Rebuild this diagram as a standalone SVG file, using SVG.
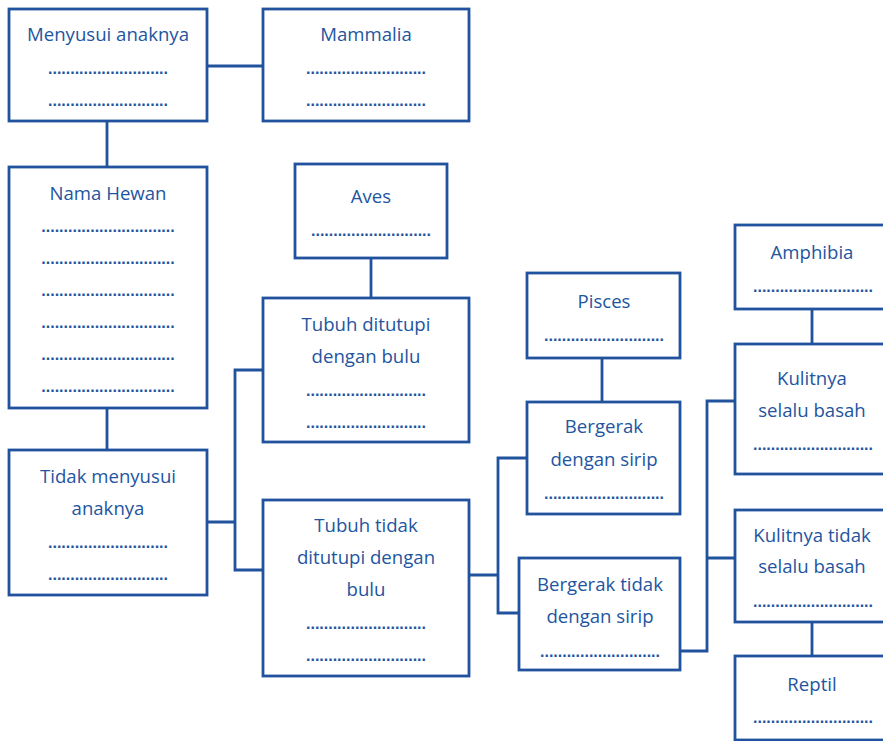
<svg xmlns="http://www.w3.org/2000/svg" width="883" height="741" viewBox="0 0 883 741">
<style>
rect{fill:#fff;stroke:#21529e;stroke-width:2.8}
.c{fill:none;stroke:#21529e;stroke-width:2.8}
text{font-family:"Open Sans","Noto Sans",sans-serif;font-size:18.6px;fill:#23559f;text-anchor:middle}
text.d{font-family:"Liberation Sans",sans-serif;font-size:16px;font-weight:bold}
</style>
<rect width="883" height="741" style="stroke:none"/>
<g id="connectors">
<path class="c" d="M207 66H263"/>
<path class="c" d="M107 121V167"/>
<path class="c" d="M107 408V450"/>
<path class="c" d="M371 258V298"/>
<path class="c" d="M207 522H235M263 370H235V570H263"/>
<path class="c" d="M469 575H498M527 458H498V613H519"/>
<path class="c" d="M602 358V402"/>
<path class="c" d="M680 651H707V401H735M707 558H735"/>
<path class="c" d="M812 309V344"/>
<path class="c" d="M812 622V656"/>
</g>
<g id="menyusui">
<rect x="9" y="9" width="198" height="112"/>
<text x="108" y="41">Menyusui anaknya</text>
<text class="d" x="108" y="74">...........................</text>
<text class="d" x="108" y="106">...........................</text>
</g>
<g id="mammalia">
<rect x="263" y="9" width="206" height="112"/>
<text x="366" y="41">Mammalia</text>
<text class="d" x="366" y="74">...........................</text>
<text class="d" x="366" y="106">...........................</text>
</g>
<g id="nama-hewan">
<rect x="9" y="167" width="198" height="241"/>
<text x="108" y="200">Nama Hewan</text>
<text class="d" x="108" y="232">..............................</text>
<text class="d" x="108" y="264">..............................</text>
<text class="d" x="108" y="296">..............................</text>
<text class="d" x="108" y="328">..............................</text>
<text class="d" x="108" y="360">..............................</text>
<text class="d" x="108" y="392">..............................</text>
</g>
<g id="aves">
<rect x="295" y="164" width="152" height="94"/>
<text x="371" y="203">Aves</text>
<text class="d" x="371" y="236">...........................</text>
</g>
<g id="tubuh-bulu">
<rect x="263" y="298" width="206" height="144"/>
<text x="366" y="331">Tubuh ditutupi</text>
<text x="366" y="363">dengan bulu</text>
<text class="d" x="366" y="396">...........................</text>
<text class="d" x="366" y="428">...........................</text>
</g>
<g id="tidak-menyusui">
<rect x="9" y="450" width="198" height="145"/>
<text x="108" y="483">Tidak menyusui</text>
<text x="108" y="515">anaknya</text>
<text class="d" x="108" y="548">...........................</text>
<text class="d" x="108" y="580">...........................</text>
</g>
<g id="tubuh-tidak-bulu">
<rect x="263" y="500" width="206" height="176"/>
<text x="366" y="532">Tubuh tidak</text>
<text x="366" y="564">ditutupi dengan</text>
<text x="366" y="596">bulu</text>
<text class="d" x="366" y="629">...........................</text>
<text class="d" x="366" y="661">...........................</text>
</g>
<g id="pisces">
<rect x="527" y="273" width="153" height="85"/>
<text x="604" y="308">Pisces</text>
<text class="d" x="604" y="341">...........................</text>
</g>
<g id="sirip">
<rect x="527" y="402" width="153" height="112"/>
<text x="604" y="433">Bergerak</text>
<text x="604" y="466">dengan sirip</text>
<text class="d" x="604" y="499">...........................</text>
</g>
<g id="tidak-sirip">
<rect x="519" y="558" width="161" height="112"/>
<text x="600" y="591">Bergerak tidak</text>
<text x="600" y="623">dengan sirip</text>
<text class="d" x="600" y="657">...........................</text>
</g>
<g id="amphibia">
<rect x="735" y="225" width="154" height="84"/>
<text x="812" y="259">Amphibia</text>
<text class="d" x="813" y="292">...........................</text>
</g>
<g id="basah">
<rect x="735" y="344" width="154" height="130"/>
<text x="812" y="385">Kulitnya</text>
<text x="812" y="417">selalu basah</text>
<text class="d" x="813" y="450">...........................</text>
</g>
<g id="tidak-basah">
<rect x="735" y="510" width="154" height="112"/>
<text x="812" y="542">Kulitnya tidak</text>
<text x="812" y="573">selalu basah</text>
<text class="d" x="813" y="607">...........................</text>
</g>
<g id="reptil">
<rect x="735" y="656" width="154" height="84"/>
<text x="812" y="691">Reptil</text>
<text class="d" x="813" y="723">...........................</text>
</g>
</svg>
